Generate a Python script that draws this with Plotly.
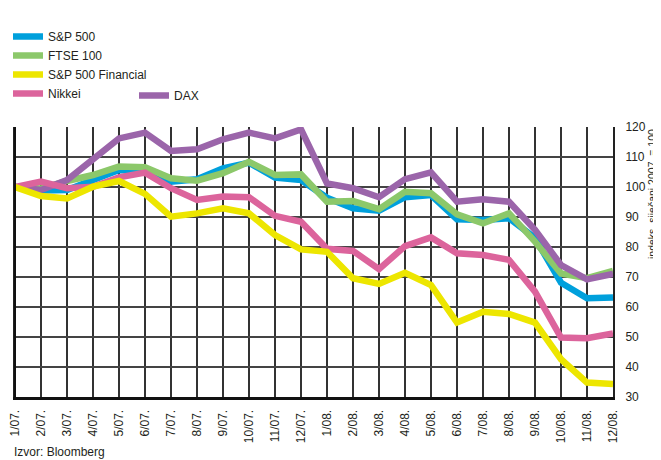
import plotly.graph_objects as go

months = ["1/07.", "2/07.", "3/07.", "4/07.", "5/07.", "6/07.", "7/07.", "8/07.", "9/07.", "10/07.", "11/07.", "12/07.",
          "1/08.", "2/08.", "3/08.", "4/08.", "5/08.", "6/08.", "7/08.", "8/08.", "9/08.", "10/08.", "11/08.", "12/08."]

sp500 = [100, 98.8, 99.0, 102.3, 105.7, 105.1, 101.8, 102.6, 106.2, 108.1, 103.1, 102.3,
         96.4, 92.9, 92.1, 96.6, 97.3, 89.2, 89.0, 89.6, 83.0, 68.1, 62.9, 63.2]
ftse100 = [100, 99.5, 102.0, 104.0, 106.8, 106.6, 102.9, 102.1, 104.6, 108.4, 104.0, 104.2,
           95.1, 95.3, 92.6, 98.4, 97.9, 90.9, 87.9, 91.2, 81.8, 71.2, 69.6, 72.0]
sp500_fin = [100, 97.0, 96.2, 100.1, 102.0, 97.7, 90.1, 91.2, 92.9, 91.2, 84.0, 79.2,
             78.4, 69.6, 67.7, 71.4, 67.3, 54.8, 58.4, 57.7, 54.8, 42.6, 34.8, 34.3]
nikkei = [100, 101.8, 99.6, 100.1, 103.2, 104.8, 99.6, 95.7, 96.8, 96.6, 90.4, 88.4,
          79.4, 78.7, 72.6, 80.3, 83.2, 77.9, 77.3, 75.7, 65.1, 49.8, 49.6, 51.2]
dax = [100, 99.0, 102.3, 109.2, 116.2, 118.1, 112.0, 112.6, 115.9, 118.1, 116.2, 119.2,
       101.2, 99.6, 96.6, 102.6, 104.9, 95.1, 95.9, 95.1, 85.7, 74.0, 69.2, 71.0]

ytick_vals = [30, 40, 50, 60, 70, 80, 90, 100, 110, 120]

FONT = "Liberation Sans Narrow, Liberation Sans, Arial, sans-serif"
TXT = "#231f20"

W, H = 653, 452  # page body has an 8px margin; figure fills the rest of the 661x460 window

xs = list(range(len(months)))

series = [
    ("S&P 500", sp500, "#00a0dc", 1, "legend"),
    ("FTSE 100", ftse100, "#8cc86a", 2, "legend"),
    ("DAX", dax, "#9b65aa", 5, "legend2"),
    ("Nikkei", nikkei, "#dc649c", 4, "legend"),
    ("S&P 500 Financial", sp500_fin, "#ede600", 3, "legend"),
]

fig = go.Figure()
for name, vals, col, rank, leg in series:
    fig.add_trace(go.Scatter(
        x=xs, y=vals, name=name, mode="lines",
        line=dict(color=col, width=6.5),
        legendrank=rank, legend=leg,
    ))

fig.update_layout(
    width=W, height=H,
    margin=dict(l=7, r=48, t=119, b=63, autoexpand=False),
    paper_bgcolor="white", plot_bgcolor="white",
    font=dict(family=FONT, color=TXT, size=12),
    showlegend=True,
    legend=dict(
        xref="container", yref="container", x=0, y=1 - 14 / H,
        xanchor="left", yanchor="top",
        font=dict(size=12, family=FONT, color=TXT),
        bgcolor="rgba(0,0,0,0)", tracegroupgap=0, itemwidth=30,
    ),
    legend2=dict(
        xref="container", yref="container", x=126 / W, y=1 - 73 / H,
        xanchor="left", yanchor="top",
        font=dict(size=12, family=FONT, color=TXT),
        bgcolor="rgba(0,0,0,0)", itemwidth=30,
    ),
    xaxis=dict(
        range=[0, len(months) - 1],
        tickmode="array", tickvals=xs, ticktext=months,
        tickangle=-90, ticks="", ticklabelstandoff=5,
        ticklabeloverflow="allow",
        showgrid=True, gridcolor="#333333", gridwidth=1.5,
        showline=True, linecolor="#111", linewidth=3, mirror=False,
        zeroline=False, tickfont=dict(size=12, family=FONT, color=TXT),
    ),
    yaxis=dict(
        side="right", range=[30, 120],
        tickmode="array", tickvals=ytick_vals,
        ticks="", ticklabelstandoff=8, ticklabeloverflow="allow",
        showgrid=True, gridcolor="#444444", gridwidth=1.5,
        showline=True, linecolor="#222", linewidth=2, mirror=True,
        zeroline=False, tickfont=dict(size=12, family=FONT, color=TXT),
    ),
    annotations=[
        dict(text="indeks, siječanj 2007. = 100", textangle=-90,
             xref="paper", yref="paper", x=1, xshift=39, y=1.0,
             xanchor="center", yanchor="top", showarrow=False,
             font=dict(size=10.5, family=FONT, color=TXT)),
        dict(text="Izvor: Bloomberg", xref="paper", yref="paper",
             x=-3 / 598, y=-55 / 270, xanchor="left", yanchor="middle",
             showarrow=False, font=dict(size=12, family=FONT, color=TXT)),
    ],
)

fig.add_shape(type="line", xref="paper", yref="paper", x0=0, x1=0, y0=0, y1=1,
              line=dict(color="#111", width=2))

fig.write_html("out.html")
